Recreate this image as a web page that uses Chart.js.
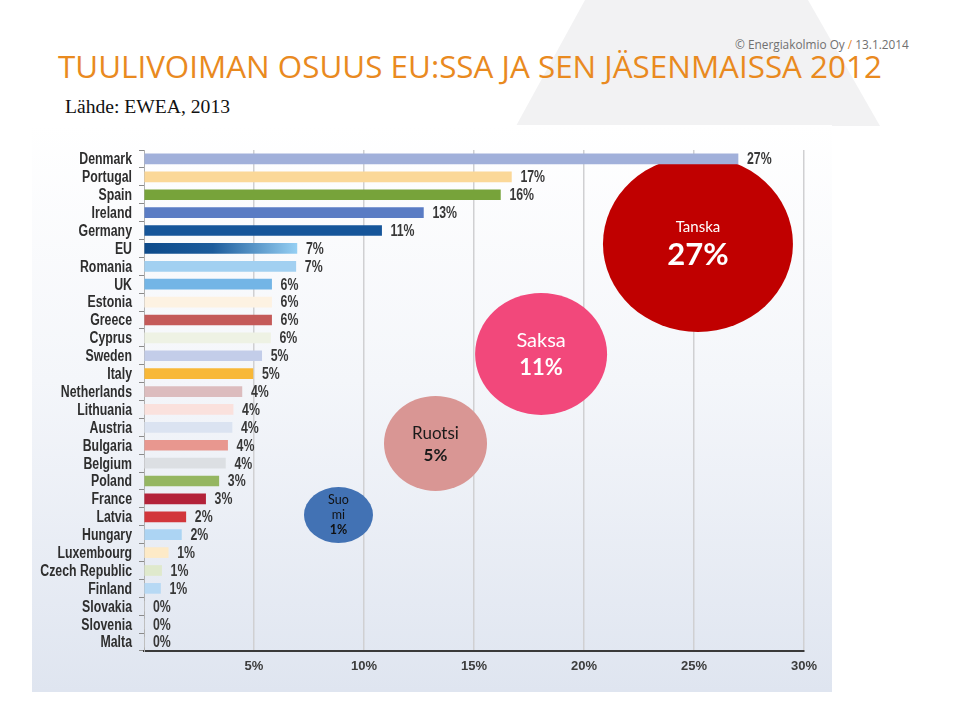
<!DOCTYPE html>
<html>
<head>
<meta charset="utf-8">
<script src="https://cdn.jsdelivr.net/npm/chart.js@4.4.1/dist/chart.umd.min.js"></script>
<style>
  html, body { margin:0; padding:0; background:#fff; }
  #page { position:relative; width:960px; height:720px; overflow:hidden; background:#fff; }
  #tri { position:absolute; left:0; top:0; width:960px; height:126px; background:#f2f2f3;
         clip-path: polygon(585px 0, 808px 0, 880px 126px, 516px 126px); }
  .txt { position:absolute; white-space:nowrap; display:inline-block; line-height:1; }
  #title { left:58px; font-family:'Open Sans','Noto Sans',sans-serif; font-weight:400; color:#e98a1f; }
  #copy { font-family:'Open Sans','Noto Sans',sans-serif; color:#707070; }
  #src { left:65px; font-family:'Liberation Serif','Times New Roman',serif; color:#111; }
  #panel { position:absolute; left:32px; top:125px; width:800px; height:567px;
           background:linear-gradient(to bottom,#ffffff 0%,#f4f6fa 45%,#dfe5f0 100%); }
  #c { position:absolute; left:0; top:0; }
</style>
</head>
<body>
<div id="page">
  <div id="tri"></div>
  <div id="copy" class="txt">© Energiakolmio Oy <span style="color:#e98a1f">/</span> 13.1.2014</div>
  <div id="title" class="txt">TUULIVOIMAN OSUUS EU:SSA JA SEN JÄSENMAISSA 2012</div>
  <div id="src" class="txt">Lähde: EWEA, 2013</div>
  <div id="panel"></div>
  <canvas id="c" width="960" height="720"></canvas>
</div>
<script>
// ---------- DATA ----------
const categories = ['Denmark','Portugal','Spain','Ireland','Germany','EU','Romania','UK','Estonia','Greece',
  'Cyprus','Sweden','Italy','Netherlands','Lithuania','Austria','Bulgaria','Belgium','Poland','France',
  'Latvia','Hungary','Luxembourg','Czech Republic','Finland','Slovakia','Slovenia','Malta'];
const shareValues = [27.0,16.7,16.2,12.7,10.8,6.95,6.9,5.8,5.8,5.8,
  5.75,5.35,4.95,4.45,4.05,4.0,3.8,3.7,3.4,2.8,
  1.9,1.7,1.1,0.8,0.75,0,0,0];
const valueLabels = ['27%','17%','16%','13%','11%','7%','7%','6%','6%','6%',
  '6%','5%','5%','4%','4%','4%','4%','4%','3%','3%',
  '2%','2%','1%','1%','1%','0%','0%','0%'];
const xTickValues = [0,5,10,15,20,25,30];
const bubbleNames = ['Tanska','Saksa','Ruotsi','Suomi'];
const bubbleShares = ['27%','11%','5%','1%'];

// ---------- STYLES ----------
const barColors = ['#a1b0da','#fbd898','#77a33a','#5a7cc4','#16569a','#0f4c8c','#a2d0f1','#73b5e6','#fdf2e2','#c45a59',
  '#eef2e4','#c3cde9','#f8b838','#dcbcbe','#fae1dd','#dbe3f1','#e8978f','#dcdfe3','#95b661','#b3223a',
  '#d2363b','#acd4f3','#fdeac7','#dfe9cc','#b7d9f4','#dddddd','#dddddd','#dddddd'];

// header text fitting (layout only)
function fit(el, base, targetW){
  el.style.fontSize = base + 'px';
  const w = el.getBoundingClientRect().width;
  const s = base * targetW / w;
  el.style.fontSize = s + 'px';
  return s;
}
const tEl = document.getElementById('title');
const ts = fit(tEl, 28, 824);
tEl.style.top = (78 - 0.888*ts) + 'px';
const cEl = document.getElementById('copy');
const cs = fit(cEl, 13, 174);
cEl.style.left = (909 - 174) + 'px';
cEl.style.top = (49.5 - 0.888*cs) + 'px';
const sEl = document.getElementById('src');
const ss = fit(sEl, 20, 165);
sEl.style.top = (113 - 0.8375*ss) + 'px';

const boldFont = "bold 16px 'Liberation Sans',Arial,sans-serif";
const SQUEEZE = 0.77; // emulate a narrow bold face

function narrowText(ctx, text, x, y, align){
  ctx.save();
  ctx.translate(x, y);
  ctx.scale(SQUEEZE, 1);
  ctx.textAlign = align;
  ctx.fillText(text, 0, 0);
  ctx.restore();
}

// bubble annotation layout (scale units for centres, px for radii)
const bubbleLayout = [
  {x:25.18, y:4.75, rx:95, ry:88, fill:'#c00000', text:'#ffffff', lines:[[15,'400',-17],[31,'700',11]]},
  {x:18.05, y:10.9, rx:66, ry:61, fill:'#f2487b', text:'#ffffff', lines:[[20,'400',-13],[22,'700',14]]},
  {x:13.25, y:15.9, rx:51.5, ry:47.5, fill:'#d99694', text:'#1a1a1a', lines:[[17,'400',-9.5],[17,'700',12]]},
  {x:8.84, y:19.9, rx:34.5, ry:28, fill:'#4272b4', text:'#111111', lines:[[12.5,'400',-15],[12.5,'400',0],[12.5,'700',15]]}
];

const bubblePlugin = {
  id:'bubbles',
  beforeDatasetsDraw(chart){
    const ctx = chart.ctx, xs = chart.scales.x, ys = chart.scales.y;
    bubbleLayout.forEach((b, i) => {
      const cx = xs.getPixelForValue(b.x), cy = ys.getPixelForValue(b.y);
      ctx.save();
      ctx.beginPath();
      ctx.ellipse(cx, cy, b.rx, b.ry, 0, 0, Math.PI*2);
      ctx.fillStyle = b.fill;
      ctx.fill();
      ctx.fillStyle = b.text;
      ctx.textAlign = 'center';
      ctx.textBaseline = 'middle';
      const name = bubbleNames[i];
      const texts = b.lines.length === 3 ? [name.slice(0,3), name.slice(3), bubbleShares[i]] : [name, bubbleShares[i]];
      b.lines.forEach((ln, k) => {
        ctx.font = ln[1] + ' ' + ln[0] + "px Lato, 'Open Sans', sans-serif";
        ctx.fillText(texts[k], cx, cy + ln[2]);
      });
      ctx.restore();
    });
  }
};

const labelPlugin = {
  id:'barLabels',
  afterDatasetsDraw(chart){
    const ctx = chart.ctx;
    const meta = chart.getDatasetMeta(0);
    const ys = chart.scales.y;
    ctx.save();
    ctx.font = boldFont;
    ctx.textBaseline = 'middle';
    // value labels
    ctx.fillStyle = '#383838';
    meta.data.forEach((el, i) => {
      narrowText(ctx, valueLabels[i], el.x + 9, el.y + 1, 'left');
    });
    // category labels (narrow bold), positioned by the y scale
    ctx.fillStyle = '#2e2e2e';
    categories.forEach((name, i) => {
      narrowText(ctx, name, chart.chartArea.left - 12, ys.getPixelForTick(i) + 1, 'right');
    });
    ctx.restore();
  }
};

new Chart(document.getElementById('c'), {
  type:'bar',
  data:{
    labels: categories,
    datasets:[{
      data: shareValues,
      barThickness: 10,
      borderWidth: 0,
      backgroundColor: (c) => {
        const i = c.dataIndex;
        if (categories[i] === 'EU' && c.chart.chartArea) {
          const xs = c.chart.scales.x;
          const x0 = xs.getPixelForValue(0), x1 = xs.getPixelForValue(shareValues[i]);
          const g = c.chart.ctx.createLinearGradient(x0, 0, x1, 0);
          g.addColorStop(0, '#0d4a8a');
          g.addColorStop(0.45, '#1c5c9c');
          g.addColorStop(1, '#95cff3');
          return g;
        }
        return barColors[i];
      }
    }]
  },
  options:{
    indexAxis:'y',
    responsive:false,
    animation:false,
    layout:{ padding:{ left:32, top:150, right:156, bottom:28 } },
    plugins:{ legend:{display:false}, tooltip:{enabled:false} },
    scales:{
      x:{
        min:0, max:30,
        afterBuildTicks(scale){ scale.ticks = xTickValues.map(v => ({value:v})); },
        afterFit(scale){ scale.height = 41; },
        ticks:{ callback:(v) => v === 0 ? '' : v + '%', font:{family:"'Liberation Sans',Arial,sans-serif", size:13, weight:'bold'}, color:'#3c3c3c', padding:8 },
        grid:{ drawTicks:false, color:(c) => c.tick && c.tick.value === 0 ? 'rgba(0,0,0,0)' : '#d0d0d2', lineWidth:1.5 },
        border:{ display:true, color:'#3a3a3a', width:2 }
      },
      y:{
        afterFit(scale){ scale.width = 112; },
        ticks:{ display:false },
        grid:{ drawOnChartArea:false, drawTicks:true, tickLength:5, color:'#8a8a8a', lineWidth:1 },
        border:{ display:true, color:'#b0b0b0', width:1 }
      }
    }
  },
  plugins:[bubblePlugin, labelPlugin]
});
</script>
</body>
</html>
